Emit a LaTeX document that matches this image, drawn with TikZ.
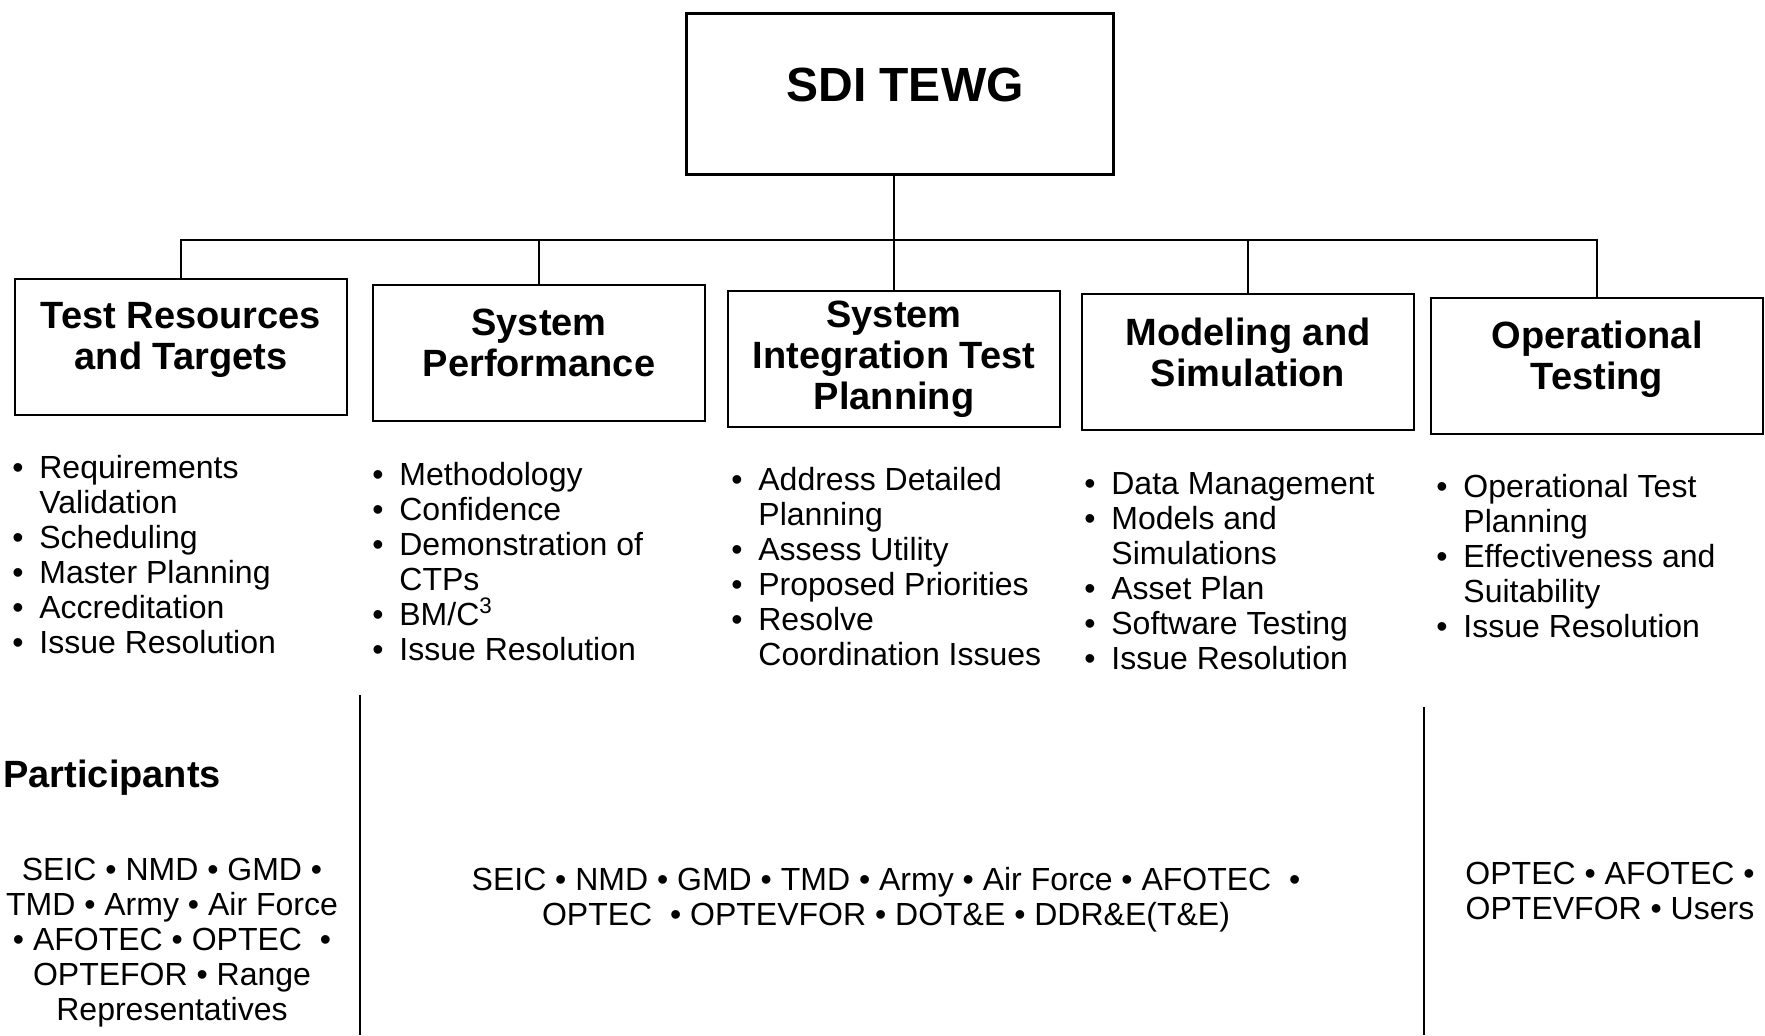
\documentclass[tikz,border=0pt]{standalone}
\usepackage{fontspec}
\setmainfont{Liberation Sans}
\newcommand{\bitem}{\makebox[13.5pt][l]{•}}
\newcommand{\bcont}{\hspace*{13.5pt}}
\tikzset{
  topbox/.style={draw, line width=1.4pt, minimum width=213.5pt, minimum height=80.5pt},
  toptext/.style={font=\fontsize{24}{28}\selectfont\bfseries, align=center},
  areabox/.style={draw, line width=1.4pt, minimum width=166pt, minimum height=68pt},
  areatext/.style={font=\fontsize{19}{20.5}\selectfont\bfseries, align=center, inner sep=0pt},
  bulletlist/.style={anchor=north west, inner sep=0pt, align=left,
                     font=\fontsize{16}{17.5}\selectfont},
  partext/.style={anchor=north, inner sep=0pt, align=center,
                  font=\fontsize{16}{17.5}\selectfont},
  conn/.style={line width=1.2pt},
  sepline/.style={line width=1.2pt}
}

\begin{document}
\begin{tikzpicture}[x=0.5pt, y=-0.5pt]
  \useasboundingbox (0,0) rectangle (1765,1035);

  % Top box
  \node[topbox] (tewg) at (900,94) {};
  \node[toptext] (tewgtext) at ([xshift=2.5pt,yshift=4.5pt]tewg.center) {SDI TEWG};

  % Working areas
  \node[areabox] (trt)  at (181,347)  {};
  \node[areabox] (sp)   at (539,353)  {};
  \node[areabox] (sitp) at (894,359)  {};
  \node[areabox] (ms)   at (1248,362) {};
  \node[areabox] (ot)   at (1597,366) {};
  \node[areatext] (trttext)  at ([yshift=3.5pt]trt.center) {Test Resources\\and Targets};
  \node[areatext] (sptext)   at ([yshift=5pt]sp.center)    {System\\Performance};
  \node[areatext] (sitptext) at (sitp.center)              {System\\Integration Test\\Planning};
  \node[areatext] (mstext)   at ([yshift=5pt]ms.center)    {Modeling and\\Simulation};
  \node[areatext] (ottext)   at ([yshift=3.5pt]ot.center)  {Operational\\Testing};

  % Tree lines
  \coordinate (bus) at (0,240);
  \draw[conn] (tewg.south -| sitp.north) -- (sitp.north);
  \draw[conn] (trt.north) |- (bus -| ot.north) -- (ot.north);
  \foreach \b in {sp,ms}{
    \draw[conn] (\b.north) -- (\b.north |- bus);
  }

  % Task lists
  \node[bulletlist] (trtlist) at (12,455)
    {\bitem Requirements\\ \bcont Validation\\ \bitem Scheduling\\
     \bitem Master Planning\\ \bitem Accreditation\\ \bitem Issue Resolution};
  \node[bulletlist] (splist) at (372,462)
    {\bitem Methodology\\ \bitem Confidence\\ \bitem Demonstration of\\
     \bcont CTPs\\ \bitem BM/C\textsuperscript{3}\\ \bitem Issue Resolution};
  \node[bulletlist] (sitplist) at (731,467)
    {\bitem Address Detailed\\ \bcont Planning\\ \bitem Assess Utility\\
     \bitem Proposed Priorities\\ \bitem Resolve\\ \bcont Coordination Issues};
  \node[bulletlist] (mslist) at (1084,472)
    {\bitem Data Management\\ \bitem Models and\\ \bcont Simulations\\
     \bitem Asset Plan\\ \bitem Software Testing\\ \bitem Issue Resolution};
  \node[bulletlist] (otlist) at (1436,474)
    {\bitem Operational Test\\ \bcont Planning\\ \bitem Effectiveness and\\
     \bcont Suitability\\ \bitem Issue Resolution};

  % Participants
  \node[anchor=west, inner sep=0pt, font=\fontsize{19}{20.5}\selectfont\bfseries]
        (parthead) at (3,778) {Participants};
  \node[partext] (partleft) at (172,858)
    {SEIC • NMD • GMD •\\TMD • Army • Air Force\\• AFOTEC • OPTEC \ •\\
     OPTEFOR • Range\\Representatives};
  \node[partext] (partmid) at (886,867)
    {SEIC • NMD • GMD • TMD • Army • Air Force • AFOTEC \ •\\
     OPTEC \ • OPTEVFOR • DOT\&E • DDR\&E(T\&E)};
  \node[partext] (partright) at (1610,862)
    {OPTEC • AFOTEC •\\OPTEVFOR • Users};

  % Separators
  \coordinate (sepatop) at (360,695);
  \coordinate (sepabot) at (360,1035);
  \coordinate (sepbtop) at (1424,707);
  \coordinate (sepbbot) at (1424,1035);
  \draw[sepline] (sepatop) -- (sepabot);
  \draw[sepline] (sepbtop) -- (sepbbot);
\end{tikzpicture}
\end{document}
